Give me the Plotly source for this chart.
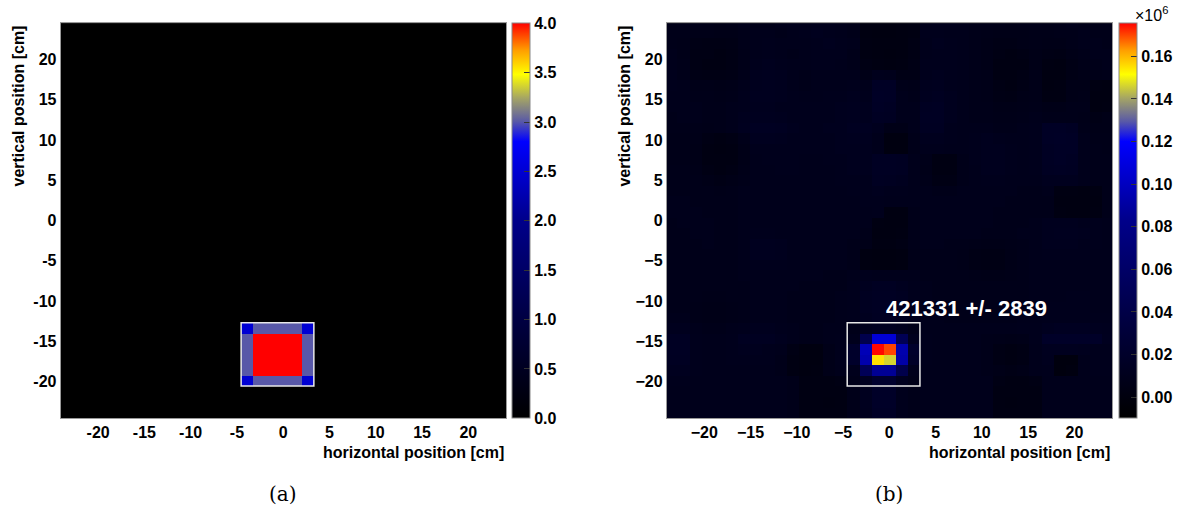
import numpy as np
import plotly.graph_objects as go

# ---------------- data ----------------
W, H = 1178, 514
tick_vals = [-20, -15, -10, -5, 0, 5, 10, 15, 20]
tick_text_a = ["-20", "-15", "-10", "-5", "0", "5", "10", "15", "20"]
tick_text_b = ["\u221220", "\u221215", "\u221210", "\u22125", "0", "5", "10", "15", "20"]

# histogram binning (cm)
bin_width = 1.31
x_first_edge = -24.2
y_first_edge = -24.51
n_cols, n_rows = 37, 38

# (a) weight map: 6x6 region, rows top -> bottom
spot_a = [
    [2.5, 3.0, 3.0, 3.0, 3.0, 2.5],
    [3.0, 4.0, 4.0, 4.0, 4.0, 3.0],
    [3.0, 4.0, 4.0, 4.0, 4.0, 3.0],
    [3.0, 4.0, 4.0, 4.0, 4.0, 3.0],
    [3.0, 4.0, 4.0, 4.0, 4.0, 3.0],
    [2.5, 3.0, 3.0, 3.0, 3.0, 2.5],
]
box_col0 = 15   # first column of the region
box_row0 = 3    # first row (from bottom) of the region

# (b) measured map, in units of 10^3 counts, rows top -> bottom
counts_b_k = [
    [7,8,8,7,6,7,9,8,8,9,10,9,10,10,9,8,2,2,1,2,3,9,10,10,9,8,8,7,6,7,8,7,8,9,8,7,8],
    [8,8,7,7,6,6,8,9,9,8,9,10,11,10,9,8,2,1,1,2,3,10,10,9,9,8,7,6,6,6,7,7,8,8,9,8,8],
    [8,7,5,4,4,5,8,9,10,9,9,9,10,11,10,9,3,2,2,2,4,9,11,10,9,8,6,5,5,6,7,6,6,8,9,9,8],
    [9,7,4,4,3,4,7,9,10,9,8,9,10,10,10,8,3,2,1,2,4,9,10,10,9,8,6,4,3,4,6,5,4,6,8,9,9],
    [9,8,4,3,3,4,7,10,11,10,9,9,10,10,9,8,4,3,2,3,5,10,10,10,9,8,6,3,3,3,6,3,2,5,7,8,9],
    [10,8,5,4,4,5,8,11,12,11,9,8,9,9,9,9,6,10,9,5,5,10,11,10,9,8,7,3,3,4,7,2,2,5,6,7,8],
    [10,9,7,7,6,7,9,11,12,11,9,8,9,9,9,10,9,16,16,8,7,11,12,10,9,8,7,4,3,5,7,2,3,6,6,3,2],
    [9,9,8,8,7,8,10,12,12,11,10,9,9,10,10,11,10,17,16,9,8,12,13,11,9,8,7,5,4,6,7,3,3,6,7,2,2],
    [9,9,9,8,8,9,10,11,11,10,10,10,10,10,11,12,11,16,15,9,9,14,15,11,9,8,8,6,6,7,8,6,6,8,8,2,3],
    [8,9,9,8,8,9,11,12,12,11,10,10,10,10,11,12,11,15,14,9,9,15,15,11,9,8,8,7,7,8,9,8,8,8,7,5,6],
    [8,8,8,7,8,9,12,14,14,13,11,10,10,11,11,13,13,11,6,6,9,14,14,10,9,9,9,8,8,9,10,16,16,15,8,6,6],
    [7,7,7,4,3,4,8,12,12,11,10,10,10,10,11,12,12,9,1,1,8,11,11,10,9,10,11,10,9,9,10,16,17,16,9,7,7],
    [7,7,6,3,2,3,6,10,10,10,10,10,10,10,11,11,11,9,1,1,8,10,10,9,9,10,11,11,10,9,10,15,16,16,9,8,7],
    [7,7,6,3,3,3,6,9,10,10,10,9,9,10,10,11,11,15,15,14,9,8,3,3,8,10,11,11,10,9,10,15,16,15,9,8,8],
    [8,8,7,4,3,4,7,9,9,10,10,9,9,9,10,11,11,15,15,14,9,7,3,3,8,9,11,11,10,9,10,14,15,14,9,8,8],
    [8,8,8,6,5,6,8,9,9,9,9,9,9,9,10,10,10,14,13,12,9,8,4,4,8,9,10,10,9,9,9,11,11,11,9,8,8],
    [8,8,8,8,7,8,9,9,9,9,9,9,9,9,9,10,10,11,10,10,9,9,8,8,9,9,9,9,9,8,8,9,3,3,2,3,8],
    [9,9,8,8,8,8,9,9,9,9,9,9,9,9,9,9,10,10,9,9,9,9,9,9,9,9,9,9,8,8,8,8,2,2,2,2,8],
    [9,9,9,8,8,8,9,9,9,9,9,9,9,9,9,9,9,10,2,2,8,9,9,9,9,9,9,8,8,8,8,8,3,2,2,3,8],
    [8,9,9,9,8,8,9,9,9,9,9,9,9,9,9,9,9,3,2,2,8,9,9,9,9,9,9,8,8,8,9,11,11,11,10,10,9],
    [8,8,9,9,8,8,9,10,10,9,9,9,9,9,9,9,8,2,2,3,8,9,9,9,9,9,8,8,8,9,9,11,12,12,11,10,9],
    [8,8,8,9,8,8,9,12,12,11,9,9,9,9,9,8,7,3,3,4,8,9,9,8,8,7,6,6,7,8,9,11,11,11,10,10,9],
    [8,8,8,8,8,8,9,12,12,11,9,9,9,9,9,8,2,1,1,2,7,8,8,8,7,5,4,4,6,8,9,10,10,10,10,9,9],
    [8,8,8,8,8,8,9,10,10,10,9,9,9,9,9,8,2,1,1,2,7,8,8,8,7,5,4,4,6,8,9,9,9,9,9,9,9],
    [8,8,8,8,8,8,9,9,9,9,9,9,9,8,8,9,10,9,9,9,9,8,8,8,8,7,6,6,7,8,9,9,9,9,9,9,9],
    [8,8,8,8,8,8,8,9,9,9,9,8,8,8,8,10,12,14,14,12,10,9,8,8,8,8,8,8,8,8,9,9,9,9,9,9,9],
    [8,8,8,7,7,8,8,9,9,9,8,8,8,8,9,10,13,15,15,13,10,9,8,8,8,8,8,8,8,8,9,9,9,10,10,9,9],
    [8,8,7,6,6,7,8,9,9,9,8,8,8,8,9,10,13,15,15,13,10,9,8,8,8,8,8,8,8,9,9,10,10,10,10,9,9],
    [9,9,7,6,6,7,8,9,9,9,8,8,8,8,9,10,12,14,14,12,10,9,9,8,8,8,8,8,8,9,9,10,10,10,10,10,10],
    [11,11,9,8,8,9,10,11,11,10,9,8,8,9,9,8,11,13,13,11,8,9,9,9,9,9,9,9,9,10,10,12,13,13,13,12,11],
    [15,15,10,9,9,10,13,13,13,11,9,8,8,9,10,10,43,107,107,48,11,10,9,9,9,9,8,7,6,7,10,18,18,18,18,18,12],
    [15,15,10,9,9,10,11,11,10,9,4,1,1,7,10,20,97,175,170,94,20,10,9,9,9,9,8,4,3,4,9,12,12,12,11,10,10],
    [14,14,10,9,9,10,10,10,10,8,3,1,1,7,10,20,94,155,146,92,18,10,9,9,9,9,8,4,3,4,9,11,0,0,9,10,10],
    [12,12,10,9,9,9,9,9,9,8,3,1,2,7,9,10,50,86,86,43,10,9,9,9,9,9,8,6,5,6,9,10,0,1,9,10,10],
    [10,10,9,9,9,9,9,9,9,9,8,3,3,3,4,8,13,23,23,12,8,9,9,9,9,9,9,4,3,3,4,9,9,9,9,9,9],
    [9,9,9,9,9,9,9,9,9,9,8,3,3,3,3,8,12,18,18,10,8,9,9,9,9,9,9,3,3,3,3,9,9,9,9,9,9],
    [9,9,9,9,9,9,9,9,9,9,8,3,3,2,3,8,12,18,18,10,8,9,9,9,9,9,9,3,2,3,3,9,9,9,9,9,9],
    [9,9,9,9,9,9,9,9,9,9,8,3,3,3,3,8,11,17,17,10,8,9,9,9,9,9,9,3,3,3,3,9,9,9,9,9,9],
]
integral_text = "421331 +/- 2839"

# ---------------- build ----------------
z_a = np.zeros((n_rows, n_cols))
spot = np.array(spot_a)[::-1]
z_a[box_row0:box_row0 + 6, box_col0:box_col0 + 6] = spot
z_b = np.array(counts_b_k, dtype=float)[::-1] / 1000.0   # in units of 10^6

x0c = x_first_edge + bin_width / 2
y0c = y_first_edge + bin_width / 2
bx0 = x_first_edge + box_col0 * bin_width
bx1 = bx0 + 6 * bin_width
by0 = y_first_edge + box_row0 * bin_width
by1 = by0 + 6 * bin_width

cs = [[0.0, 'rgb(0,0,0)'], [0.25, 'rgb(0,0,66)'], [0.5, 'rgb(0,0,138)'],
      [0.70, 'rgb(0,0,255)'], [0.75, 'rgb(88,88,168)'], [0.81, 'rgb(165,165,100)'],
      [0.87, 'rgb(255,255,0)'], [0.93, 'rgb(255,160,0)'], [1.0, 'rgb(255,0,0)']]

FONT = "Liberation Sans, Arial, Helvetica, sans-serif"
bold16 = dict(family=FONT, size=16, color="black", weight="bold")

def px_x(p):
    return p / W

def px_y(p):
    return 1 - p / H

top_px, bot_px = 23.3, 418.0
a_l, a_r = 60.7, 506.7
b_l, b_r = 667.3, 1113.3

def cbar(xpix, ticks, fmt):
    return dict(x=px_x(xpix), xanchor="left", xref="paper", yref="paper",
                y=px_y(top_px), yanchor="top", len=(bot_px - top_px) / H, lenmode="fraction",
                thickness=18, thicknessmode="pixels", xpad=0, ypad=0,
                outlinewidth=1, outlinecolor="#888", ticks="inside", ticklen=6,
                tickcolor="#333", tickvals=ticks, tickformat=fmt, tickfont=bold16)

fig = go.Figure()
fig.add_trace(go.Heatmap(z=z_a, x0=x0c, dx=bin_width, y0=y0c, dy=bin_width,
                         colorscale=cs, zmin=0, zmax=4, xaxis="x", yaxis="y",
                         colorbar=cbar(511.7, [0, 0.5, 1, 1.5, 2, 2.5, 3, 3.5, 4], ".1f"),
                         hoverinfo="skip"))
fig.add_trace(go.Heatmap(z=z_b, x0=x0c, dx=bin_width, y0=y0c, dy=bin_width,
                         colorscale=cs, zmin=-0.0099, zmax=0.1755, xaxis="x2", yaxis="y2",
                         colorbar=cbar(1118.5, [0, 0.02, 0.04, 0.06, 0.08, 0.10, 0.12, 0.14, 0.16], ".2f"),
                         hoverinfo="skip"))

ax_common = dict(showgrid=False, zeroline=False, showline=True, mirror=True,
                 linecolor="#999", linewidth=1, ticks="", tickfont=bold16, tickvals=tick_vals)

fig.update_layout(
    width=W, height=H, margin=dict(l=0, r=0, t=0, b=0),
    paper_bgcolor="white", plot_bgcolor="black", showlegend=False,
    xaxis=dict(domain=[px_x(a_l), px_x(a_r)], range=[-24.05, 24.1], anchor="y",
               ticktext=tick_text_a, **ax_common),
    yaxis=dict(domain=[px_y(bot_px), px_y(top_px)], range=[-24.55, 24.5], anchor="x",
               ticktext=tick_text_a, **ax_common),
    xaxis2=dict(domain=[px_x(b_l), px_x(b_r)], range=[-24.05, 24.1], anchor="y2",
                ticktext=tick_text_b, **ax_common),
    yaxis2=dict(domain=[px_y(bot_px), px_y(top_px)], range=[-24.55, 24.5], anchor="x2",
                ticktext=tick_text_b, **ax_common),
)

for xr, yr in (("x", "y"), ("x2", "y2")):
    fig.add_shape(type="rect", xref=xr, yref=yr, x0=bx0, x1=bx1, y0=by0, y1=by1,
                  line=dict(color="#e8e8e8", width=1.5))

ann = []
for left, right in ((a_l, a_r), (b_l, b_r)):
    ann.append(dict(text="horizontal position [cm]", xref="paper", yref="paper",
                    x=px_x(right), xanchor="right", y=px_y(452), yanchor="middle",
                    showarrow=False, font=bold16))
    ann.append(dict(text="vertical position [cm]", xref="paper", yref="paper",
                    x=px_x(left - 42), xanchor="center", y=px_y(top_px), yanchor="top",
                    textangle=-90, showarrow=False, font=bold16))
ann.append(dict(text=integral_text, xref="x2", yref="y2", x=8.3, y=-10.9,
                xanchor="center", yanchor="middle", showarrow=False,
                font=dict(family=FONT, size=22, color="white", weight="bold")))
ann.append(dict(text="\u00d710<sup>6</sup>", xref="paper", yref="paper",
                x=px_x(1134), xanchor="left", y=px_y(14), yanchor="middle",
                showarrow=False, font=dict(family=FONT, size=16, color="black")))
ann.append(dict(text="(a)", xref="paper", yref="paper", x=px_x(283), y=px_y(494),
                xanchor="center", yanchor="middle", showarrow=False,
                font=dict(family="DejaVu Serif, serif", size=20, color="black")))
ann.append(dict(text="(b)", xref="paper", yref="paper", x=px_x(890), y=px_y(494),
                xanchor="center", yanchor="middle", showarrow=False,
                font=dict(family="DejaVu Serif, serif", size=20, color="black")))
fig.update_layout(annotations=ann)

fig.write_html("out.html")
